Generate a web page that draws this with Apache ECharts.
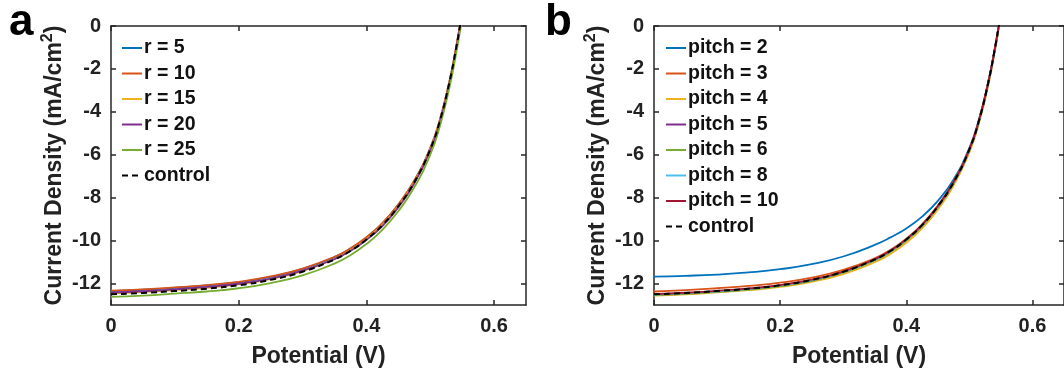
<!DOCTYPE html>
<html>
<head>
<meta charset="utf-8">
<script src="https://cdn.jsdelivr.net/npm/echarts@6/dist/echarts.min.js"></script>
<style>
html,body{margin:0;padding:0;background:#fff;}
#chart{width:1064px;height:375px;}
</style>
</head>
<body>
<div id="chart"></div>
<script>
// ---- data ----
const V = [0, 0.05, 0.1, 0.15, 0.2, 0.25, 0.3, 0.35, 0.375, 0.4, 0.425, 0.45, 0.475, 0.5, 0.515, 0.53, 0.54, 0.548, 0.555];

const leftNames = ['r = 5', 'r = 10', 'r = 15', 'r = 20', 'r = 25', 'control'];
const r5  = [-12.35, -12.29, -12.20, -12.09, -11.94, -11.69, -11.32, -10.77, -10.38, -9.86, -9.20, -8.33, -7.22, -5.70, -4.39, -2.60, -1.10, 0.28, 1.59];
const r10 = [-12.33, -12.27, -12.18, -12.07, -11.92, -11.67, -11.30, -10.75, -10.36, -9.84, -9.18, -8.31, -7.20, -5.68, -4.37, -2.58, -1.08, 0.30, 1.61];
const r15 = [-12.46, -12.40, -12.31, -12.20, -12.04, -11.79, -11.42, -10.86, -10.46, -9.94, -9.27, -8.40, -7.28, -5.75, -4.43, -2.63, -1.13, 0.25, 1.56];
const r20 = [-12.42, -12.36, -12.27, -12.16, -12.01, -11.77, -11.40, -10.86, -10.48, -9.97, -9.32, -8.45, -7.34, -5.81, -4.49, -2.68, -1.17, 0.21, 1.52];
const r25 = [-12.62, -12.56, -12.47, -12.37, -12.22, -11.98, -11.62, -11.07, -10.68, -10.16, -9.50, -8.63, -7.52, -6.00, -4.68, -2.88, -1.38, 0.00, 1.31];
const controlJ = [-12.50, -12.44, -12.35, -12.24, -12.08, -11.83, -11.45, -10.88, -10.48, -9.95, -9.28, -8.40, -7.28, -5.75, -4.43, -2.63, -1.13, 0.25, 1.56];

const rightNames = ['pitch = 2', 'pitch = 3', 'pitch = 4', 'pitch = 5', 'pitch = 6', 'pitch = 8', 'pitch = 10', 'control'];
const p2  = [-11.68, -11.64, -11.58, -11.48, -11.33, -11.10, -10.74, -10.20, -9.85, -9.43, -8.88, -8.15, -7.15, -5.68, -4.37, -2.59, -1.10, 0.27, 1.58];
const p3  = [-12.37, -12.31, -12.22, -12.11, -11.96, -11.72, -11.36, -10.82, -10.43, -9.91, -9.24, -8.37, -7.25, -5.72, -4.40, -2.60, -1.10, 0.28, 1.59];
const p4  = [-12.56, -12.50, -12.41, -12.31, -12.16, -11.92, -11.56, -11.01, -10.62, -10.10, -9.43, -8.55, -7.43, -5.89, -4.56, -2.76, -1.25, 0.13, 1.44];
const p5  = [-12.52, -12.46, -12.37, -12.26, -12.10, -11.85, -11.47, -10.90, -10.50, -9.97, -9.30, -8.42, -7.30, -5.77, -4.45, -2.65, -1.15, 0.23, 1.54];
const p6  = [-12.54, -12.48, -12.39, -12.28, -12.12, -11.87, -11.49, -10.92, -10.52, -9.99, -9.32, -8.44, -7.32, -5.79, -4.47, -2.67, -1.17, 0.21, 1.52];
const p8  = [-12.51, -12.45, -12.36, -12.25, -12.09, -11.84, -11.46, -10.89, -10.49, -9.96, -9.29, -8.41, -7.29, -5.76, -4.44, -2.64, -1.14, 0.24, 1.55];
const p10 = [-12.49, -12.43, -12.34, -12.23, -12.07, -11.82, -11.44, -10.87, -10.47, -9.94, -9.27, -8.39, -7.27, -5.74, -4.42, -2.62, -1.12, 0.26, 1.57];

const xTicks = [0, 0.2, 0.4, 0.6];
const yTicks = [-12, -10, -8, -6, -4, -2, 0];
const panelLetters = ['a', 'b'];
const xTitle = 'Potential (V)';

// ---- styling ----
const FONT = 'Liberation Sans';
const AX = '#262626';
const colors = ['#0072BD', '#D95319', '#EDB120', '#7E2F8E', '#77AC30', '#4DBEEE', '#A2142F'];

const chart = echarts.init(document.getElementById('chart'), null, {renderer: 'canvas'});

function pairs(J) { return V.map((v, i) => [v, J[i]]); }

function xAx(grid, pos) {
  const bottom = pos === 'bottom';
  return {
    type: 'value', gridIndex: grid, position: pos, min: 0, max: 0.65,
    name: bottom ? xTitle : '', nameLocation: 'middle', nameGap: 40,
    nameTextStyle: {fontFamily: FONT, fontWeight: 'bold', fontSize: 23, color: '#222'},
    axisLine: {show: true, onZero: false, lineStyle: {color: AX, width: 1.5}},
    axisTick: {show: true, inside: true, length: 5, lineStyle: {color: AX, width: 1.5}, customValues: xTicks},
    axisLabel: {show: bottom, customValues: xTicks, margin: 11, fontFamily: FONT, fontWeight: 'bold', fontSize: 20, color: '#222',
      formatter: v => String(v)},
    splitLine: {show: false}
  };
}
function yAx(grid, pos) {
  const left = pos === 'left';
  return {
    type: 'value', gridIndex: grid, position: pos, min: -13, max: 0,
    name: left ? '{n|Current Density (mA/cm}{s|2}{n|)}' : '', nameLocation: 'middle', nameGap: 41,
    nameTextStyle: {
      rich: {
        n: {fontFamily: FONT, fontWeight: 'bold', fontSize: 23, color: '#222'},
        s: {fontFamily: FONT, fontWeight: 'bold', fontSize: 16, color: '#222', verticalAlign: 'top', padding: [0, 0, 14, 0]}
      }
    },
    axisLine: {show: true, onZero: false, lineStyle: {color: AX, width: 1.5}},
    axisTick: {show: true, inside: true, length: 5, lineStyle: {color: AX, width: 1.5}, customValues: yTicks},
    axisLabel: {show: left, customValues: yTicks, margin: 10, fontFamily: FONT, fontWeight: 'bold', fontSize: 20, color: '#222'},
    splitLine: {show: false}
  };
}

function mkSeries(name, J, color, grid, dashed) {
  return {
    type: 'line', name: name, data: pairs(J),
    xAxisIndex: grid * 2, yAxisIndex: grid * 2,
    showSymbol: false, symbol: 'none', smooth: 0.5, clip: true,
    lineStyle: {color: color, width: dashed ? 2 : 1.8, type: dashed ? [6, 4] : 'solid'},
    itemStyle: {color: color},
    emphasis: {disabled: true},
    z: dashed ? 5 : 2
  };
}

const leftJ = [r5, r10, r15, r20, r25];
const rightJ = [p2, p3, p4, p5, p6, p8, p10];

const series = [];
leftJ.forEach((J, i) => series.push(mkSeries(leftNames[i], J, colors[i], 0, false)));
series.push(mkSeries('control', controlJ, '#000', 0, true));
rightJ.forEach((J, i) => series.push(mkSeries(rightNames[i], J, colors[i], 1, false)));
series.push(mkSeries('control', controlJ, '#000', 1, true));

function legend(left, names) {
  return {
    orient: 'vertical', left: left, top: 38, padding: 0,
    itemWidth: 20, itemHeight: 14, itemGap: 5.5,
    itemStyle: {opacity: 0, borderWidth: 0},
    textStyle: {fontFamily: FONT, fontWeight: 'bold', fontSize: 19.5, color: '#111', lineHeight: 20, padding: [0, 0, 0, -3]},
    data: names, selectedMode: false
  };
}

chart.setOption({
  animation: false,
  backgroundColor: '#fff',
  grid: [
    {left: 111, top: 26, width: 415, height: 279, containLabel: false},
    {left: 654, top: 26, width: 415, height: 279, containLabel: false}
  ],
  xAxis: [xAx(0, 'bottom'), xAx(0, 'top'), xAx(1, 'bottom'), xAx(1, 'top')],
  yAxis: [yAx(0, 'left'), yAx(0, 'right'), yAx(1, 'left'), yAx(1, 'right')],
  legend: [legend(121, leftNames), legend(665, rightNames)],
  graphic: [
    {type: 'text', x: 9, y: 23, style: {text: panelLetters[0], font: 'bold 44px "Liberation Sans"', fill: '#000', verticalAlign: 'middle'}},
    {type: 'text', x: 545, y: 23, style: {text: panelLetters[1], font: 'bold 44px "Liberation Sans"', fill: '#000', verticalAlign: 'middle'}}
  ],
  series: series
});
</script>
</body>
</html>
